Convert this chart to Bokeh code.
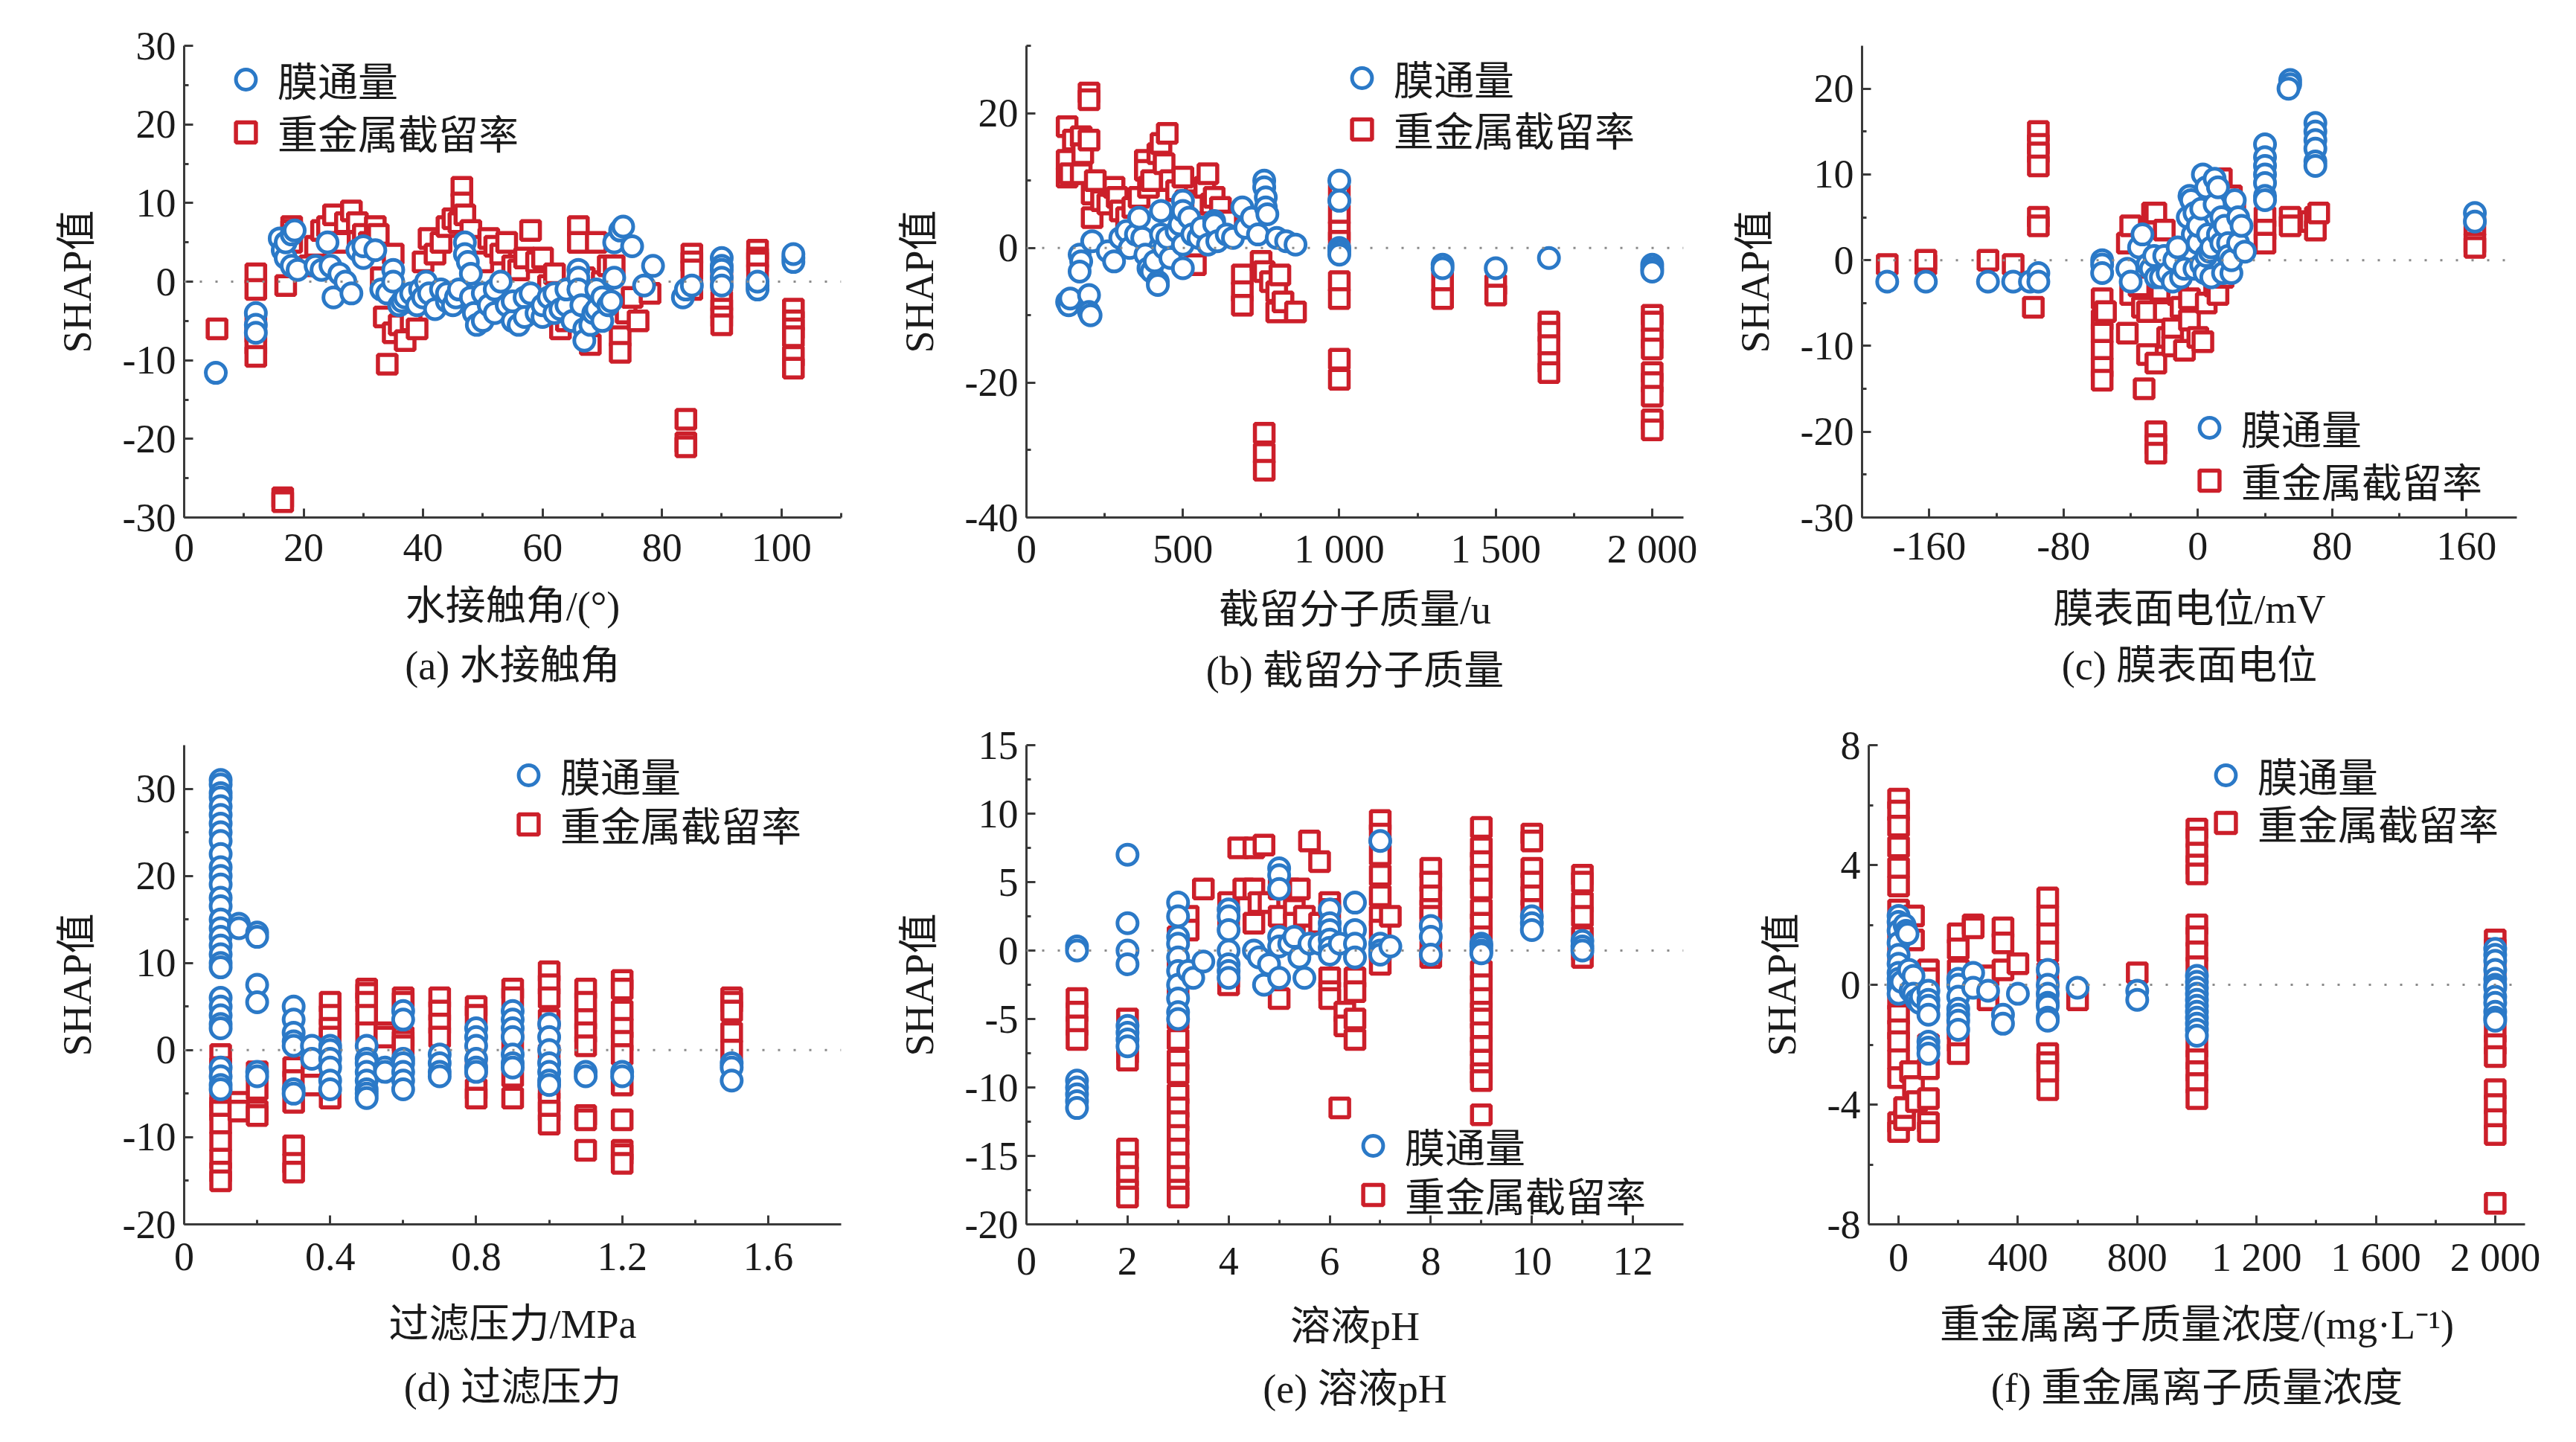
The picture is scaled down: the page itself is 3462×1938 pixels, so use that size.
from bokeh.plotting import figure
from bokeh.models import Range1d, FixedTicker, Span, Legend, LegendItem, Title
from bokeh.layouts import column, row
from bokeh.embed import file_html
from bokeh.resources import INLINE
import numpy as np

# ---------------- data ----------------
SERIES = ["膜通量", "重金属截留率"]

A_FLUX = [(5.3,-11.6),(12,-4),(12,-5.5),(12,-6.5),(16,5.5),(16.5,4),(17,3),(17,5),(18,6),(18.5,6.5),(18,2),(19,1.5),
          (22,2),(23,1.5),(24,5),(24.5,2),(25,-2),(26,1),(27,0),(28,-1.5),(29,4),(30,3),(30,4.5),(32,4),(33,-1),(34,-1.5),
          (35,1.5),(35,0),(36,-3),(36.5,-2.5),(37,-2),(38,-1.5),(39,-3),(39.5,-1),(40,-2),(40.5,0),(41,-1.5),(42,-3.5),
          (43,-1),(44,-2.5),(44,-1.5),(45,-3),(45.5,-2),(46,-1),(47,5),(47,3.5),(47.5,2.5),(48,1),(48,-2),(48.5,-4),
          (49,-5.5),(50,-5),(50,-1.5),(51,-3),(52,-1),(52,-4),(53,0),(54,-3),(55,-5),(55,-2.5),(56,-5.5),(57,-2),(57,-4.5),
          (58,-1.5),(59,-4),(60,-4.5),(60,-3),(61,-2),(62,-1.5),(62,-4),(63,-3.5),(64,-3),(64,-1),(65,-5),(66,1.5),(66,0.5),
          (66,-1),(66.5,-3),(67,-6),(67,-7.5),(68,-5.5),(68.5,-4),(69,-3.5),(69,-1),(70,-5),(70,-2),(71,-3),(71.5,-2.5),
          (72,0.5),(72,5),(73,6.5),(73.5,7),(75,4.5),(77,-0.5),(78.5,2),(83.5,-2),(84,-1),(85,-0.5),(90,3),(90,2),(90,1.5),
          (90,0.5),(90,-0.5),(96,-0.5),(96,-1),(96,0),(102,3),(102,2.5),(102,3.5)]
A_REJ = [(5.5,-6),(12,1),(12,-1),(12,-5),(12,-6.5),(12,-8),(12,-9.5),(16.5,-27.5),(16.5,-28),(17,-0.5),(18,7),(18,6.5),
         (18,5),(21,2),(22,4.5),(23,6.5),(24,7),(25,8.5),(26,5),(27,7.5),(28,9),(29,7.5),(30,6),(31,5),(32,7),(32.5,6),
         (33,0.5),(33.5,-4.5),(34,-10.5),(35,-6.5),(35,3.5),(36,-5.5),(37,-7.5),(38,-5),(39,-6),(40,2.5),(41,5.5),(42,3.5),
         (43,5),(44,7),(45,8),(46,7.5),(46.5,12),(46.5,10),(47,8.5),(48,6.5),(49,4.5),(50,2.5),(51,5.5),(52,4.5),(53,3.5),
         (54,5),(55,2),(56,1.5),(57,3),(58,6.5),(59,2.5),(60,3),(61,-0.5),(62,1),(63,-6),(64,-5),(65,-2),(66,7),(66,5),
         (67,0.5),(68,-2.5),(68,-8),(69,5),(70,0),(71,2),(72,2),(73,-7),(73,-9),(74,-4),(75,-2),(76,-5),(78,-1.5),
         (84,-17.5),(84,-20.5),(84,-21),(85,3.5),(85,2.5),(85,1.5),(85,-1),(90,1),(90,0),(90,-2.5),(90,-3.5),(90,-4.5),
         (90,-5.5),(96,4),(96,3),(96,2.5),(96,1),(102,-3.5),(102,-5),(102,-6),(102,-7),(102,-9.5),(102,-11)]

B_FLUX = [(130,-8),(135,-8.5),(140,-7.5),(170,-1),(175,-2),(170,-3.5),(200,-7),(200,-9.5),(205,-10),(210,1),(260,-0.5),
          (280,-2),(300,1.5),(320,2.5),(330,0),(350,2),(360,4.5),(370,1.5),(380,-1),(390,-3),(400,-3.5),(410,-2),(420,-5),
          (420,-5.5),(430,5.5),(430,2),(440,0),(450,1.5),(460,-1.5),(480,2.5),(490,3.5),(500,7),(500,5.5),(500,0.5),(500,-3),
          (520,4.5),(530,2),(550,1.5),(560,3),(580,0.5),(600,4),(600,3.5),(610,1),(640,2),(660,1.5),(690,6),(700,3),(720,4.5),
          (740,2),(760,10),(760,9),(765,7.5),(765,6),(770,5),(800,1.5),(830,1),(860,0.5),(1000,10),(1000,7),(1000,0),
          (1000,-0.5),(1000,-1),(1330,-2.5),(1330,-3),(1500,-3),(1670,-1.5),(2000,-2.5),(2000,-3),(2000,-3.5)]
B_REJ = [(130,18),(130,13),(130,10.5),(140,11),(150,16),(175,16.5),(175,11),(180,14),(200,23),(200,22),(200,16),(210,8),
         (210,4.5),(220,10),(240,7),(260,6.5),(280,9),(290,7.5),(300,5.5),(320,4.5),(340,6),(360,7.5),(380,13),(380,11.5),
         (390,9),(400,10),(420,14),(430,15.5),(440,12.5),(450,17),(460,10),(480,8.5),(500,10.5),(510,7),(520,5),(540,-2.5),
         (560,6.5),(570,9),(580,11),(590,6.5),(600,7.5),(620,6),(640,4),(690,-4),(690,-6.5),(690,-8.5),(750,-2),(760,-3.5),
         (760,-27.5),(760,-30.5),(760,-33),(780,-5),(800,-6.5),(800,-9.5),(810,-4),(820,-8),(860,-9.5),(1000,8),(1000,5),
         (1000,2.5),(1000,1),(1000,-5),(1000,-7.5),(1000,-16.5),(1000,-19.5),(1330,-5),(1330,-7.5),(1500,-5.5),(1500,-7),
         (1670,-11),(1670,-12.5),(1670,-14.5),(1670,-17),(1670,-18.5),(2000,-10),(2000,-11),(2000,-13.5),(2000,-15),
         (2000,-18.5),(2000,-20),(2000,-22),(2000,-25.5),(2000,-27)]

C_FLUX = [(-185,-2.5),(-162,-2.5),(-125,-2.5),(-110,-2.5),(-100,-2.5),(-95,-1.5),(-95,-2.5),(-57,0),(-57,-0.5),(-57,-1.5),
          (-42,-1),(-40,-2.5),(-35,1.5),(-33,3),(-30,-0.5),(-28,-1),(-26,0.5),(-25,-2),(-22,-2),(-20,0.5),(-18,-1.5),
          (-15,-2.5),(-14,0),(-12,1.5),(-10,-2),(-8,-1),(-6,5),(-5,7.5),(-4,7),(-3,3),(-2,5.5),(-2,-1),(0,2),(0,4),(2,-0.5),
          (2,6),(3,10),(4,-1.5),(5,8.5),(5,0.5),(6,3),(7,1),(8,-2),(8,1.5),(10,9.5),(10,6.5),(12,3),(12,8.5),(14,5),(14,2),
          (15,-1.5),(16,4),(18,2),(18,0.5),(20,-1.5),(20,0),(22,7),(24,2),(24,5),(26,4),(28,1),(40,13.5),(40,12),(40,11),
          (40,10),(40,9),(40,7.5),(40,7),(55,21),(55,20.5),(54,20),(70,16),(70,15),(70,14),(70,13),(70,11.5),(70,11),
          (165,5.5),(165,4.5)]
C_REJ = [(-185,-0.5),(-162,-0.5),(-162,0),(-125,0),(-110,-0.5),(-98,-5.5),(-95,15),(-95,13.5),(-95,12.5),(-95,11),(-95,5),
         (-95,4),(-57,-4.5),(-57,-7),(-57,-8.5),(-57,-10.5),(-57,-12.5),(-57,-14),(-55,-6),(-42,2),(-42,-8.5),(-40,4),
         (-40,-4),(-35,-3),(-33,-5.5),(-30,-6),(-30,-11),(-32,-15),(-27,5.5),(-25,5.5),(-25,-20),(-25,-21.5),(-25,-22.5),
         (-25,-12),(-22,-3.5),(-20,3.5),(-20,-6),(-18,-9),(-15,-8),(-15,-10),(-12,-4),(-10,-5.5),(-8,-10.5),(-5,-7),
         (-5,-4.5),(0,-9),(3,-9.5),(5,-5),(10,-3),(12,-4),(14,9.5),(15,-2),(20,7.5),(22,6),(24,1),(40,5),(40,3.5),(40,2),
         (55,5),(55,4),(67,4.5),(70,5),(70,3.5),(72,5.5),(165,4),(165,2),(165,1.5)]

D_FLUX = [(0.1,31),(0.1,30.5),(0.1,29.5),(0.1,29),(0.1,28),(0.1,27),(0.1,26),(0.1,25),(0.1,24),(0.1,22.5),(0.1,21),
          (0.1,20),(0.1,19),(0.1,17.5),(0.1,16.5),(0.1,15),(0.1,14),(0.1,13),(0.1,12),(0.1,11),(0.1,10),(0.1,9.5),(0.1,6),
          (0.1,5),(0.1,4),(0.1,3),(0.1,2.5),(0.1,-2),(0.1,-3),(0.1,-4),(0.1,-4.5),(0.15,14.5),(0.15,14),(0.2,13.5),(0.2,13),
          (0.2,7.5),(0.2,5.5),(0.2,-2.5),(0.2,-3),(0.3,5),(0.3,3.5),(0.3,2),(0.3,1),(0.3,0.5),(0.3,-4.5),(0.3,-5),(0.35,0.5),
          (0.35,-1),(0.4,0.5),(0.4,0),(0.4,-1),(0.4,-2),(0.4,-3.5),(0.4,-4.5),(0.5,0.5),(0.5,-1),(0.5,-1.5),(0.5,-2.5),
          (0.5,-3.5),(0.5,-4.5),(0.5,-5),(0.5,-5.5),(0.55,-2),(0.55,-2.5),(0.6,4.5),(0.6,3.5),(0.6,-1),(0.6,-1.5),(0.6,-2.5),
          (0.6,-3.5),(0.6,-4.5),(0.7,-0.5),(0.7,-1.5),(0.7,-2.5),(0.7,-3),(0.8,2.5),(0.8,1.5),(0.8,0.5),(0.8,-1),(0.8,-2),
          (0.8,-2.5),(0.9,4.5),(0.9,3.5),(0.9,2.5),(0.9,1.5),(0.9,-0.5),(0.9,-1.5),(0.9,-2),(1.0,3),(1.0,1.5),(1.0,0),
          (1.0,-1.5),(1.0,-2.5),(1.0,-3.5),(1.0,-4),(1.1,-2.5),(1.1,-3),(1.2,-2.5),(1.2,-3),(1.5,-1.5),(1.5,-2),(1.5,-3.5)]
D_REJ = [(0.1,-0.5),(0.1,-2),(0.1,-5.5),(0.1,-6.5),(0.1,-7),(0.1,-8.5),(0.1,-10.5),(0.1,-12.5),(0.1,-14),(0.1,-15),
         (0.15,-6),(0.15,-7),(0.2,-2.5),(0.2,-4.5),(0.2,-7),(0.2,-7.5),(0.3,-2),(0.3,-3.5),(0.3,-6),(0.3,-11),(0.3,-13),
         (0.3,-14),(0.35,-3),(0.35,-4),(0.4,5.5),(0.4,4),(0.4,2.5),(0.4,1.5),(0.4,-5.5),(0.5,7),(0.5,6.5),(0.5,5.5),(0.5,4),
         (0.5,2),(0.55,2),(0.55,1.5),(0.6,6),(0.6,5.5),(0.6,1.5),(0.6,1),(0.6,0.5),(0.7,6),(0.7,4.5),(0.7,3),(0.7,1.5),
         (0.8,5),(0.8,4),(0.8,-2),(0.8,-4.5),(0.8,-5.5),(0.9,7),(0.9,6),(0.9,1),(0.9,-3),(0.9,-5.5),(1.0,9),(1.0,7.5),
         (1.0,6),(1.0,3.5),(1.0,-0.5),(1.0,-4.5),(1.0,-6),(1.0,-7),(1.0,-8.5),(1.1,7),(1.1,5.5),(1.1,3.5),(1.1,2),(1.1,0.5),
         (1.1,-7.5),(1.1,-8),(1.1,-11.5),(1.2,8),(1.2,7),(1.2,4.5),(1.2,2.5),(1.2,1),(1.2,-0.5),(1.2,-4),(1.2,-8),
         (1.2,-11.5),(1.2,-12),(1.2,-13),(1.5,6),(1.5,5.5),(1.5,4.5),(1.5,2),(1.5,0)]

E_FLUX = [(1,0.3),(1,0),(1,-9.5),(1,-10),(1,-10.5),(1,-11),(1,-11.5),(2,7),(2,2),(2,0),(2,-1),(2,-5.5),(2,-6),(2,-6.5),
          (2,-7),(3,3.5),(3,2.5),(3,1),(3,0.5),(3,-0.5),(3,-1.5),(3,-2.5),(3,-3.5),(3,-4.5),(3,-5),(3.2,-1.5),(3.3,-2),
          (3.5,-0.8),(4,3),(4,2.5),(4,1.5),(4,0),(4,-1),(4,-1.5),(4,-2),(4.5,0),(4.6,-0.5),(4.7,-2.5),(4.8,-1),(5,6),(5,5.5),
          (5,4.5),(5,1),(5,0.3),(5,-2),(5.2,0.5),(5.3,1),(5.4,-0.5),(5.5,-2),(5.6,0.5),(5.8,0.5),(6,3),(6,2),(6,1.5),(6,0.8),
          (6,0.2),(6,-0.3),(6.2,0.5),(6.5,3.5),(6.5,1.5),(6.5,0.5),(6.5,-0.5),(7,8),(7,0.5),(7,0),(7,-0.3),(7.2,0.3),(8,1.8),
          (8,1),(8,-0.3),(9,0.5),(9,0.3),(9,0),(9,-0.2),(10,2.5),(10,2),(10,1.5),(11,0.7),(11,0.3),(11,0)]
E_REJ = [(1,-3.5),(1,-4.5),(1,-5.5),(1,-6.5),(2,-5),(2,-6),(2,-7.5),(2,-8),(2,-14.5),(2,-15.5),(2,-16.5),(2,-17.5),(2,-18),
         (3,1),(3,-1),(3,-3),(3,-5),(3,-6.5),(3,-8),(3,-9),(3,-10.5),(3,-11.5),(3,-12.5),(3,-13.5),(3,-14.5),(3,-15.5),
         (3,-16.5),(3,-17.5),(3,-18),(3.2,2.5),(3.2,1.5),(3.5,4.5),(4,3.5),(4,2.5),(4,-2),(4,-2.5),(4.2,7.5),(4.3,4.5),
         (4.5,7.5),(4.5,4.5),(4.5,2),(4.6,3.5),(4.7,7.7),(4.8,3.5),(5,4.5),(5,2.5),(5,-3.5),(5.2,4.5),(5.3,3),(5.3,2),
         (5.4,4.5),(5.5,2.5),(5.6,8),(5.8,6.5),(5.8,2),(6,3.5),(6,3),(6,-2),(6,-3),(6,-3.5),(6.2,-11.5),(6.3,-4.5),(6.3,-5.5),
         (6.5,-2),(6.5,-3),(6.5,-5),(6.5,-6.5),(7,9.5),(7,8.5),(7,7),(7,5.5),(7,4),(7,2.5),(7,1.5),(7,0),(7,-1),(7.2,2.5),
         (8,6),(8,5),(8,4),(8,3),(8,2.5),(8,0),(8,-0.5),(9,9),(9,7.5),(9,6.5),(9,5.5),(9,4.5),(9,3),(9,2),(9,1),(9,-1.5),
         (9,-2.5),(9,-3.5),(9,-4.5),(9,-5),(9,-6),(9,-7),(9,-8),(9,-9),(9,-9.5),(9,-12),(10,8.5),(10,8),(10,6),(10,5),(10,4),
         (10,3),(11,5.5),(11,5),(11,3.5),(11,2.5),(11,1),(11,0),(11,-0.5)]

F_FLUX = [(0,2.3),(0,2.1),(0,1.8),(0,1.4),(0,1.0),(0,0.7),(0,0.4),(0,0.2),(0,0),(0,-0.1),(0,-0.3),(10,0.1),(20,2),(25,1.8),
          (30,1.7),(35,0.5),(40,-0.2),(50,0.3),(50,-0.3),(60,-0.5),(70,-0.6),(75,-0.4),(100,-0.2),(100,-0.5),(100,-0.7),
          (100,-1),(100,-1.9),(100,-2.1),(100,-2.3),(200,0.2),(200,0),(200,-0.4),(200,-0.8),(200,-1.0),(200,-1.2),(200,-1.5),
          (250,0.4),(250,-0.1),(300,-0.2),(350,-1),(350,-1.3),(400,-0.3),(500,0.5),(500,0),(500,-0.3),(500,-0.6),(500,-0.7),
          (500,-1.1),(500,-1.2),(600,-0.1),(800,-0.2),(800,-0.5),(1000,0.3),(1000,0.1),(1000,-0.1),(1000,-0.3),(1000,-0.5),
          (1000,-0.7),(1000,-0.9),(1000,-1.1),(1000,-1.3),(1000,-1.5),(1000,-1.7),(2000,1.2),(2000,1.0),(2000,0.8),(2000,0.5),
          (2000,0.2),(2000,0),(2000,-0.1),(2000,-0.4),(2000,-0.6),(2000,-0.9),(2000,-1.1),(2000,-1.2)]
F_REJ = [(0,6.2),(0,5.8),(0,5.3),(0,4.6),(0,3.9),(0,3.3),(0,2.5),(0,1.8),(0,1),(0,-0.5),(0,-1),(0,-1.5),(0,-1.9),(0,-2.5),
         (0,-3.1),(0,-4.6),(0,-4.9),(20,-4.5),(20,-4.1),(50,2.3),(50,1.5),(40,-2.9),(50,-3.4),(60,-3.9),(100,0.5),(100,0.2),
         (100,-0.8),(100,-2),(100,-2.8),(100,-3.8),(100,-4.6),(100,-4.9),(200,1.7),(200,1.2),(200,0.5),(200,-1.5),(200,-1.9),
         (200,-2.3),(250,2),(250,1.9),(300,0.3),(300,-0.5),(350,1.9),(350,1.4),(350,0.5),(400,0.7),(500,2.9),(500,2.3),
         (500,1.7),(500,1.1),(500,0.4),(500,-0.3),(500,-2.3),(500,-2.6),(500,-2.9),(500,-3.5),(600,-0.5),(800,0.4),
         (1000,5.2),(1000,4.9),(1000,4.4),(1000,4.0),(1000,3.7),(1000,2.0),(1000,1.6),(1000,1.1),(1000,0.6),(1000,-1.5),
         (1000,-2.1),(1000,-2.5),(1000,-2.9),(1000,-3.3),(1000,-3.8),(2000,1.5),(2000,1.2),(2000,0.4),(2000,-1.6),
         (2000,-2.0),(2000,-2.4),(2000,-3.5),(2000,-4.0),(2000,-4.5),(2000,-5.0),(2000,-7.3)]

X_LABELS = ["水接触角/(°)", "截留分子质量/u", "膜表面电位/mV", "过滤压力/MPa", "溶液pH", "重金属离子质量浓度/(mg·L⁻¹)"]
CAPTIONS = ["(a) 水接触角", "(b) 截留分子质量", "(c) 膜表面电位", "(d) 过滤压力", "(e) 溶液pH", "(f) 重金属离子质量浓度"]
Y_LABEL = "SHAP值"

# ---------------- style ----------------
FONT = "Liberation Serif, Noto Sans CJK SC"
BLUE = "#2B79C7"
RED = "#CC1F2A"
AXC = "#3a3a3a"
TXT = "#1a1a1a"
FS = "54px"


def tick_labels(ticks):
    out = {}
    for t in ticks:
        t = float(t)
        if abs(t) >= 1000:
            out[t] = f"{t:,.0f}".replace(",", " ")
        else:
            out[t] = f"{t:g}"
    return out


def panel(flux, rej, xlabel, caption, xr, yr, xt, xm, yt, ym, legs,
          W, H, bl, br, bt, bb, sp):
    tick_so, lab_so, cap_so = sp
    p = figure(width=W, height=H, x_range=Range1d(*xr), y_range=Range1d(*yr),
               output_backend="svg", toolbar_location=None,
               min_border_left=bl, min_border_right=br, min_border_top=bt, min_border_bottom=bb)
    p.grid.visible = False
    p.outline_line_color = None
    p.background_fill_color = "white"
    p.border_fill_color = "white"

    p.add_layout(Span(location=0, dimension="width", line_color="#8a8a8a",
                      line_width=3, line_dash="3 18"))

    rx, ry = zip(*rej)
    fx, fy = zip(*flux)
    rs = p.scatter(list(rx), list(ry), marker="square", size=25, line_width=5.5,
                   line_color=RED, fill_color="white")
    rc = p.scatter(list(fx), list(fy), marker="circle", size=27, line_width=5,
                   line_color=BLUE, fill_color="white")

    for ax in (p.xaxis[0], p.yaxis[0]):
        ax.axis_line_color = AXC
        ax.axis_line_width = 3
        ax.major_tick_line_color = AXC
        ax.minor_tick_line_color = AXC
        ax.major_tick_line_width = 3
        ax.minor_tick_line_width = 3
        ax.major_tick_in = 12
        ax.major_tick_out = 0
        ax.minor_tick_in = 6
        ax.minor_tick_out = 0
        ax.major_label_text_font = FONT
        ax.major_label_text_font_size = FS
        ax.major_label_text_color = TXT
        ax.axis_label_text_font = FONT
        ax.axis_label_text_font_size = FS
        ax.axis_label_text_font_style = "normal"
        ax.axis_label_text_color = TXT

    p.xaxis.ticker = FixedTicker(ticks=[float(t) for t in xt], minor_ticks=[float(t) for t in xm])
    p.yaxis.ticker = FixedTicker(ticks=[float(t) for t in yt], minor_ticks=[float(t) for t in ym])
    p.xaxis.major_label_overrides = tick_labels(xt)
    p.yaxis.major_label_overrides = tick_labels(yt)
    p.xaxis.major_label_standoff = tick_so
    p.xaxis.axis_label_standoff = lab_so
    p.yaxis.major_label_standoff = 11
    p.yaxis.axis_label_standoff = 28
    p.xaxis.axis_label = xlabel
    p.yaxis.axis_label = Y_LABEL

    for (lx, ly), lab, rend in zip(legs, SERIES, [rc, rs]):
        leg = Legend(items=[LegendItem(label=lab, renderers=[rend])],
                     location=(lx, ly), orientation="vertical",
                     glyph_width=70, glyph_height=67, label_height=67, spacing=0,
                     padding=0, margin=0, label_standoff=8,
                     label_text_font=FONT, label_text_font_size=FS, label_text_color=TXT,
                     border_line_color=None, background_fill_alpha=0)
        p.add_layout(leg, "center")

    p.add_layout(Title(text=caption, align="center", text_font=FONT, text_font_size=FS,
                       text_font_style="normal", text_color=TXT, standoff=cap_so), "below")
    return p


T1, F1, B1 = 61, 635, 252     # row 1: top border, frame height, bottom border
H1 = T1 + F1 + B1
T2, F2 = 53, 644              # row 2
H2 = 1922 - H1
B2 = H2 - T2 - F2

pa = panel(A_FLUX, A_REJ, X_LABELS[0], CAPTIONS[0], (0, 110), (-30, 30),
           np.arange(0, 101, 20), np.arange(10, 111, 20),
           np.arange(-30, 31, 10), np.arange(-25, 30, 10),
           [(48, 549), (48, 478)], 1142, H1, 247, 12, T1, B1, (22, 28, 30))
pb = panel(B_FLUX, B_REJ, X_LABELS[1], CAPTIONS[1], (0, 2100), (-40, 30),
           [0, 500, 1000, 1500, 2000], np.arange(250, 2100, 500),
           [-40, -20, 0, 20], [-30, -10, 10, 30],
           [(416, 551), (416, 482)], 1140, H1, 237, 20, T1, B1, (12, 19, 34))
pc = panel(C_FLUX, C_REJ, X_LABELS[2], CAPTIONS[2], (-200, 190), (-30, 25),
           [-160, -80, 0, 80, 160], [-200, -120, -40, 40, 120],
           np.arange(-30, 21, 10), np.arange(-25, 25, 10),
           [(432, 81), (432, 10)], 1160, H1, 220, 60, T1, B1, (20, 34, 23))
pd_ = panel(D_FLUX, D_REJ, X_LABELS[3], CAPTIONS[3], (0, 1.8), (-20, 35),
            [0, 0.4, 0.8, 1.2, 1.6], [0.2, 0.6, 1.0, 1.4],
            np.arange(-20, 31, 10), np.arange(-15, 35, 10),
            [(428, 564), (428, 498)], 1142, H2, 247, 12, T2, B2, (25, 40, 41))
pe = panel(E_FLUX, E_REJ, X_LABELS[4], CAPTIONS[4], (0, 13), (-20, 15),
           np.arange(0, 13, 2), np.arange(1, 13, 2),
           np.arange(-20, 16, 5), np.arange(-17.5, 15, 5),
           [(431, 66), (431, 0)], 1140, H2, 237, 20, T2, B2, (31, 37, 39))
pf = panel(F_FLUX, F_REJ, X_LABELS[5], CAPTIONS[5], (-100, 2100), (-8, 8),
           [0, 400, 800, 1200, 1600, 2000], [200, 600, 1000, 1400, 1800],
           [-8, -4, 0, 4, 8], [-6, -2, 2, 6],
           [(445, 564), (445, 500)], 1160, H2, 229, 49, T2, B2, (14, 28, 41))

layout = column(row(pa, pb, pc), row(pd_, pe, pf))
open("out.html", "w").write(file_html(layout, INLINE))
